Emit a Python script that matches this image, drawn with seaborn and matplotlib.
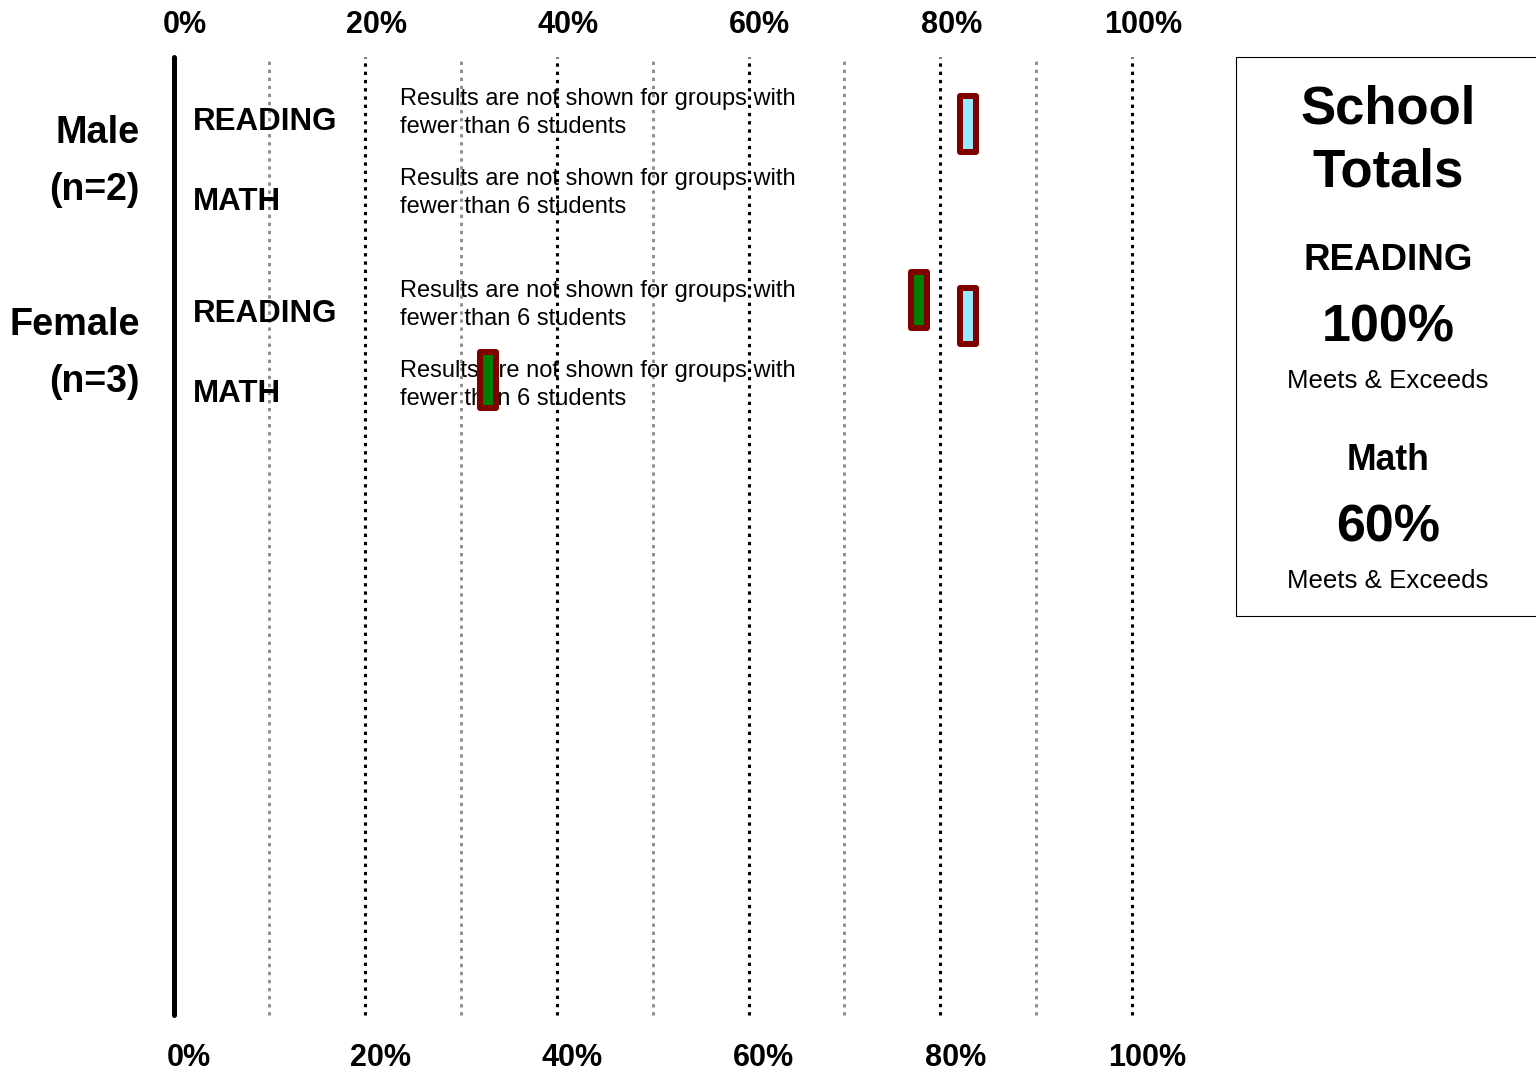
# Okul sonuçları: cinsiyete göre okuma / matematik yüzdeleri
import pandas as pd
import matplotlib
matplotlib.use('Agg')
import matplotlib.pyplot as plt
import matplotlib.transforms as mtransforms
from matplotlib.path import Path
from matplotlib.markers import MarkerStyle
from matplotlib.patches import Rectangle
import seaborn as sns

# -------------------------------------------------------
# VERİ
# -------------------------------------------------------
groups = ['Male', 'Female']
group_n = [2, 3]
subjects = ['READING', 'MATH']
note = 'Results are not shown for groups with\nfewer than 6 students'

# açık mavi işaretler
light_rows = ['Male READING', 'Female READING']
light_values = [82.9, 82.9]
# yeşil işaretler
dark_rows = ['Female READING', 'Female MATH']
dark_values = [77.8, 32.8]

tick_values = [0, 20, 40, 60, 80, 100]
tick_labels = ['0%', '20%', '40%', '60%', '80%', '100%']
minor_grid = [10, 30, 50, 70, 90]

total_subjects = ['READING', 'Math']
total_values = ['100%', '60%']
total_caption = 'Meets & Exceeds'

# -------------------------------------------------------
# YERLEŞİM (piksel bazlı satır konumları)
# -------------------------------------------------------
group_top = {'Male': 62, 'Female': 254}
row_step = 80
row_y = {}
for g in groups:
    for i, s in enumerate(subjects):
        row_y[f'{g} {s}'] = group_top[g] + i * row_step
series_offset = {'light': 5, 'dark': -11}

df = pd.DataFrame({
    'row': light_rows + dark_rows,
    'pct': light_values + dark_values,
    'series': ['light'] * len(light_rows) + ['dark'] * len(dark_rows),
})
df['y'] = df['row'].map(row_y) + df['series'].map(series_offset)

# -------------------------------------------------------
# GRAFİK
# -------------------------------------------------------
sns.set_theme(style='white')
plt.rcParams['font.family'] = ['Liberation Sans', 'DejaVu Sans']
plt.rcParams['text.color'] = 'black'
plt.rcParams['xtick.color'] = 'black'
plt.rcParams['xtick.labelcolor'] = 'black'

fig = plt.figure(figsize=(15.36, 10.73), dpi=100)
ax = fig.add_axes([173.5 / 1536, 1 - 1015 / 1073, (1132 - 173.5) / 1536, 958 / 1073])
ax.set_xlim(0, 100)
ax.set_ylim(958, 0)
for sp in ax.spines.values():
    sp.set_visible(False)
ax.set_yticks([])

# dikey kılavuz çizgileri
for v in tick_values[1:]:
    ax.axvline(v, color='black', lw=2.2, ls=(0, (1.1, 1.6)), zorder=1, clip_on=False)
for v in minor_grid:
    ax.axvline(v, color='#888888', lw=2.0, ls=(0, (1.2, 1.7)), zorder=1, clip_on=False)
ax.axvline(0, color='black', lw=3.6, zorder=2, clip_on=False)

# dikdörtgen işaretler
rect = Path([(-8, -28), (8, -28), (8, 28), (-8, 28), (-8, -28)], closed=True)
sns.scatterplot(data=df, x='pct', y='y', hue='series',
                palette={'light': '#99E6FF', 'dark': '#008000'},
                marker=MarkerStyle(rect, joinstyle='miter'), s=1626,
                edgecolor='#800000', linewidth=4.32, legend=False,
                ax=ax, zorder=5)
ax.set_xlabel('')
ax.set_ylabel('')

# satır etiketleri ve notlar
for g, n in zip(groups, group_n):
    ys = [row_y[f'{g} {s}'] for s in subjects]
    mid = sum(ys) / len(ys)
    ax.text(-3.5, mid - 26, g, ha='right', va='center', fontsize=27.3,
            weight='bold', clip_on=False)
    ax.text(-3.5, mid + 31, f'(n={n})', ha='right', va='center', fontsize=27,
            weight='bold', clip_on=False)
    for s in subjects:
        y = row_y[f'{g} {s}']
        ax.text(2.0, y + 3, s, ha='left', va='center', fontsize=22.5, weight='bold')
        ax.text(23.6, y - 6, note, ha='left', va='center', fontsize=17,
                linespacing=1.36, zorder=3)

# x ekseni etiketleri (alt ve üst)
ax.set_xticks(tick_values, tick_labels)
ax.tick_params(axis='x', length=0, pad=20, labelsize=22)
for lbl in ax.get_xticklabels():
    lbl.set_fontweight('bold')
    lbl.set_transform(lbl.get_transform() +
                      mtransforms.ScaledTranslation(15 / 100, 0, fig.dpi_scale_trans))

secax = ax.secondary_xaxis('top')
secax.set_xticks(tick_values, tick_labels)
secax.tick_params(axis='x', length=0, pad=12, labelsize=22)
secax.spines['top'].set_visible(False)
for lbl in secax.get_xticklabels():
    lbl.set_fontweight('bold')
    lbl.set_transform(lbl.get_transform() +
                      mtransforms.ScaledTranslation(11 / 100, 0, fig.dpi_scale_trans))

# okul toplamları kutusu
fig.patches.append(Rectangle((1236 / 1536, 1 - 616 / 1073), 0.3, (616 - 57) / 1073,
                             transform=fig.transFigure, fill=False,
                             edgecolor='black', lw=0.8))
cx = 1388 / 1536
def ftext(ypx, s, size, weight='bold'):
    fig.text(cx, 1 - ypx / 1073, s, ha='center', va='center',
             fontsize=size, weight=weight)

ftext(110, 'School', 38)
ftext(173, 'Totals', 38)
ftext(261, total_subjects[0], 26.5)
ftext(328, total_values[0], 37.5)
ftext(381, total_caption, 18.6, 'normal')
ftext(461, total_subjects[1], 25.6)
ftext(528, total_values[1], 37.5)
ftext(581, total_caption, 18.6, 'normal')

fig.savefig('out.png', dpi=100)
